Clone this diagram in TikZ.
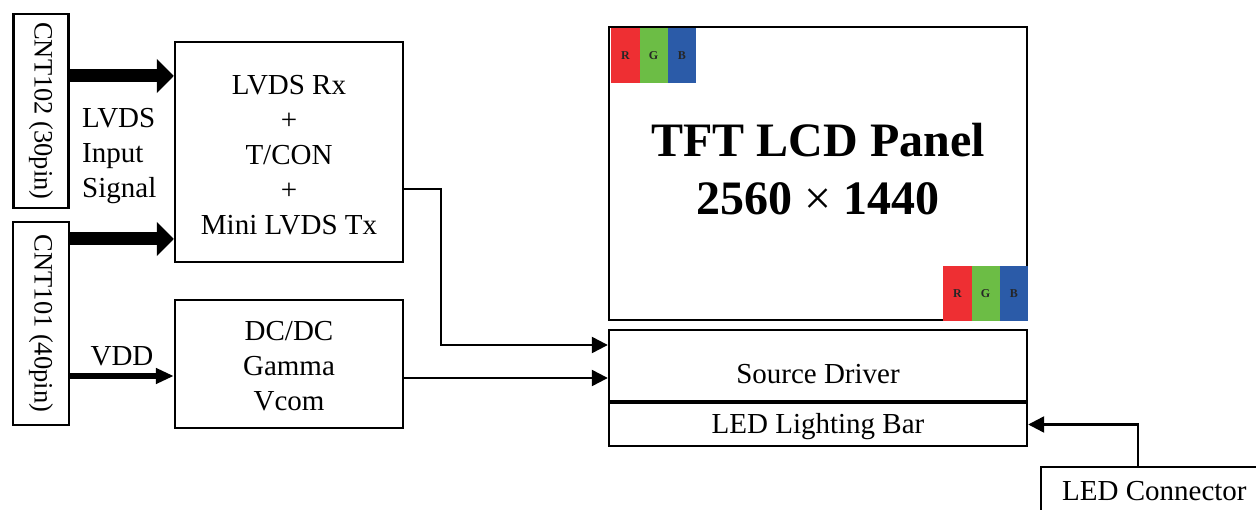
\documentclass[tikz,border=0pt]{standalone}
\usepackage{fontspec}
\setmainfont{Liberation Serif}
\usetikzlibrary{arrows.meta,positioning,calc}
\definecolor{rgbR}{HTML}{EE2F33}
\definecolor{rgbG}{HTML}{6CBD45}
\definecolor{rgbB}{HTML}{2B5BA8}
\tikzset{
  blk/.style={draw, line width=2.4pt, inner sep=0pt, align=center},
  bigarrow/.style={line width=13pt, -{Triangle[length=17pt,width=33pt]}},
  arr/.style={line width=2.4pt, -{Triangle[length=16pt,width=16pt]}},
  sub/.style={fill=#1, minimum width=28.3pt, minimum height=55pt, inner sep=0pt,
    text=black!85, font=\fontsize{12}{14}\selectfont\bfseries}
}
\begin{document}
\begin{tikzpicture}[x=1pt, y=-1pt, font=\fontsize{29}{35}\selectfont]
  \useasboundingbox (0,0) rectangle (1256,510);

  % Steckverbinder
  \node[blk, minimum width=55pt, minimum height=194pt, font=\fontsize{26.5}{30}\selectfont] (cnt102) at (41,111) {\rotatebox{-90}{CNT102 (30pin)}};
  \node[blk, minimum width=56pt, minimum height=203pt, font=\fontsize{26.5}{30}\selectfont] (cnt101) at (41,323.5) {\rotatebox{-90}{CNT101 (40pin)}};

  % Bausteine
  \node[blk, minimum width=228pt, minimum height=220pt] (lvds) at (289,152) {};
  \node (lvdstxt) at (289,155) [align=center] {LVDS Rx\\+\\T/CON\\+\\Mini LVDS Tx};
  \node[blk, minimum width=228pt, minimum height=128pt] (dcdc) at (289,364) {};
  \node (dcdctxt) at (289,366.5) [align=center] {DC/DC\\Gamma\\Vcom};

  % Panel
  \node[blk, minimum width=418pt, minimum height=293pt] (panel) at (818,173.5) {};
  \node[font=\fontsize{48}{58}\selectfont\bfseries, align=center] (title) at (818,169) {TFT LCD Panel\\2560 {\mdseries ×} 1440};
  \node[blk, minimum width=418pt, minimum height=71pt] (src) at (818,365.5) {};
  \node (srctxt) at (818,374) {Source Driver};
  \node[blk, minimum width=418pt, minimum height=43pt] (led) at (818,424.5) {};
  \node (ledtxt) at (818,427) {LED Lighting Bar};
  \node[blk, anchor=west, inner xsep=21pt, minimum height=48pt] (ledconn) at (1040,491) {LED Connector};

  % RGB
  \foreach \c/\l [count=\i] in {rgbR/R,rgbG/G,rgbB/B} {
    \node[sub=\c, anchor=north west] (tl\l) at (611+28.3*\i-28.3,28) {\l};
    \node[sub=\c, anchor=north west] (br\l) at (943+28.3*\i-28.3,266) {\l};
  }

  % Signale
  \node[anchor=west, align=left, inner sep=0pt] (sig) at (82,156) {LVDS\\Input\\Signal};
  \draw[bigarrow] (cnt102.east |- 0,76) -- (lvds.west |- 0,76);
  \draw[bigarrow] (cnt101.east |- 0,239) -- (lvds.west |- 0,239);
  \draw[line width=5.5pt, -{Triangle[length=18pt,width=15pt]}] (cnt101.east |- 0,376) -- node[above=4pt] (vdd) {VDD} (dcdc.west |- 0,376);

  \draw[arr] (lvds.east |- 0,189) -| (441,345) -- (src.west |- 0,345);
  \draw[arr] (dcdc.east |- 0,378) -- (src.west |- 0,378);
  \draw[arr] (ledconn.north -| 1138,0) |- (led.east);
\end{tikzpicture}
\end{document}
